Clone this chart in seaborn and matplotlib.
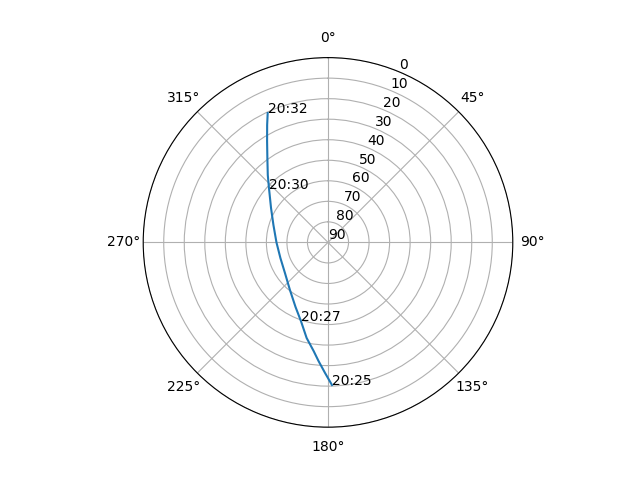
import numpy as np
import matplotlib
matplotlib.use("Agg")
import matplotlib.pyplot as plt
import seaborn as sns

# ── Pass track (azimuth deg, elevation deg) ────────────────────────────────
azimuth = [178.4, 181.3, 184.6, 187.5, 192.6, 199.0, 206.7, 218.6, 234.1, 251.8,
           270.0, 287.7, 301.1, 312.4, 318.2, 324.3, 329.0, 332.6, 335.0]
elevation = [20.5, 26.4, 32.1, 36.6, 42.3, 49.5, 54.8, 60.3, 64.2, 65.6,
             64.9, 62.1, 57.6, 51.1, 46.0, 39.4, 32.4, 25.6, 20.5]

# time labels and the track index they sit on
time_labels = ["20:25", "20:27", "20:30", "20:32"]
label_idx = [0, 5, 13, 18]

theta = np.radians(azimuth)
el = np.array(elevation)

fig = plt.figure(figsize=(6.4, 4.8), dpi=100)
ax = fig.add_subplot(111, projection="polar")
ax.set_theta_zero_location("N")
ax.set_theta_direction(-1)

sns.lineplot(x=theta, y=el, ax=ax, sort=False, color="#1f77b4", linewidth=1.5)

for lbl, i in zip(time_labels, label_idx):
    ax.text(theta[i], el[i], lbl)

ax.set_rlim(90, 0)
ax.set_rticks(np.arange(0, 91, 10))
ax.set_xlabel("")
ax.set_ylabel("")

fig.savefig("out.png", dpi=100)
